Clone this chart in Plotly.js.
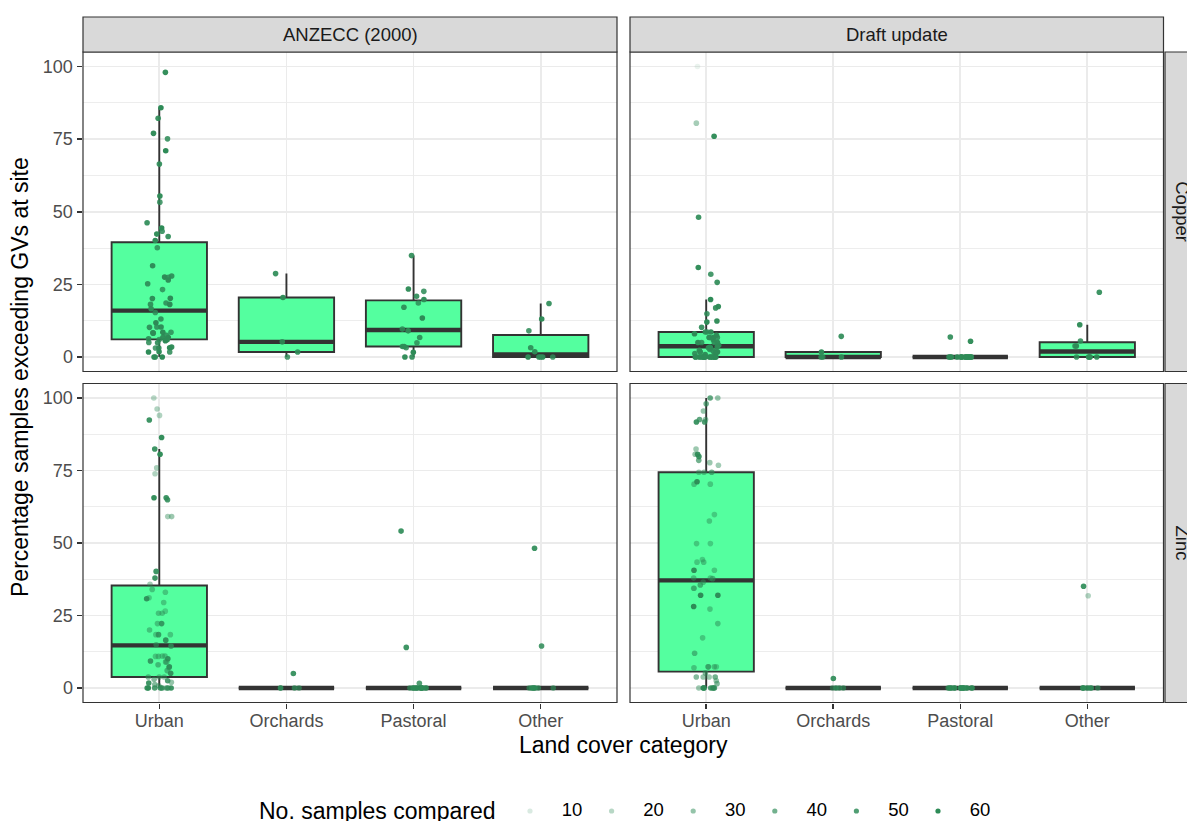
<!DOCTYPE html>
<html>
<head>
<meta charset="utf-8">
<script src="https://cdn.plot.ly/plotly-3.0.1.min.js"></script>
<style>
  html, body { margin: 0; padding: 0; background: #ffffff; }
  #chart { width: 1187px; height: 821px; }
</style>
</head>
<body>
<div id="chart"></div>
<script>
// ---- Facets, categories and legend levels ----
const categories = ['Urban', 'Orchards', 'Pastoral', 'Other'];
const standards = ['ANZECC (2000)', 'Draft update'];
const metals = ['Copper', 'Zinc'];
const legendLevels = [10, 20, 30, 40, 50, 60];

// ---- Copper, ANZECC (2000): % of samples exceeding GV per site, and samples compared ----
const anzCopperUrban = [
  98.0, 85.8, 82.2, 77.0, 75.1, 71.0, 66.4, 55.4, 53.3, 46.2,
  44.4, 43.3, 42.3, 41.5, 40.1, 37.6, 31.4, 27.9, 27.5, 27.4,
  26.5, 25.2, 23.2, 20.2, 20.1, 18.6, 18.1, 18.1, 16.6, 15.3,
  13.1, 11.8, 10.3, 10.3, 10.2, 8.5, 8.5, 8.3, 8.2, 7.5,
  6.7, 6.7, 6.3, 6.0, 5.9, 5.6, 5.0, 4.9, 3.4, 3.2,
  3.1, 3.1, 1.8, 1.7, 1.7, 0, 0, 0
];
const anzCopperUrbanN = [
  58, 60, 55, 58, 52, 60, 55, 58, 50, 55,
  60, 52, 58, 55, 60, 50, 58, 55, 60, 52,
  58, 55, 50, 60, 58, 52, 55, 60, 58, 50,
  55, 60, 52, 58, 55, 60, 50, 58, 55, 52,
  60, 58, 55, 50, 58, 60, 52, 55, 58, 60,
  55, 50, 58, 60, 52, 58, 55, 60
];
const anzCopperOrchards = [28.7, 20.5, 5.2, 1.7, 0];
const anzCopperOrchardsN = [55, 58, 52, 55, 50];
const anzCopperPastoral = [34.9, 23.4, 22.6, 20.9, 19.8, 18.6, 17.1, 13.4, 9.6, 9.0, 6.7, 4.9, 3.6, 3.6, 3.2, 1.6, 0, 0];
const anzCopperPastoralN = [55, 58, 52, 55, 58, 50, 55, 60, 52, 58, 55, 50, 58, 55, 52, 60, 55, 58];
const anzCopperOther = [18.4, 13.1, 9.0, 3.2, 1.8, 0, 0, 0, 0, 0];
const anzCopperOtherN = [55, 58, 52, 55, 58, 50, 55, 60, 52, 58];

// ---- Copper, draft update ----
const draftCopperUrban = [
  100, 80.5, 76.0, 48.1, 30.8, 28.5, 25.7, 19.8, 17.4, 16.9,
  14.9, 12.4, 12.0, 10.2, 8.6, 8.6, 8.6, 8.0, 7.5, 6.7,
  6.7, 6.7, 6.7, 6.0, 5.0, 5.0, 5.0, 5.0, 4.0, 3.4,
  3.4, 3.2, 3.0, 2.6, 2.3, 2.0, 1.7, 1.7, 1.7, 1.2,
  1.0, 0.8, 0, 0, 0, 0, 0, 0, 0, 0,
  0, 0, 0, 0, 0, 0, 0, 0
];
const draftCopperUrbanN = [
  5, 25, 58, 55, 58, 52, 55, 60, 58, 55,
  52, 58, 60, 55, 58, 50, 55, 60, 58, 52,
  55, 60, 50, 58, 55, 52, 60, 58, 55, 50,
  58, 55, 60, 52, 58, 55, 50, 60, 58, 55,
  52, 58, 55, 60, 50, 58, 55, 52, 60, 58,
  55, 50, 58, 60, 52, 55, 58, 60
];
const draftCopperOrchards = [7.1, 1.7, 0, 0, 0];
const draftCopperOrchardsN = [55, 58, 52, 55, 50];
const draftCopperPastoral = [6.9, 5.4, 0, 0, 0, 0, 0, 0, 0, 0, 0, 0, 0, 0, 0, 0, 0, 0];
const draftCopperPastoralN = [55, 58, 52, 55, 58, 50, 55, 60, 52, 58, 55, 50, 58, 55, 52, 60, 55, 58];
const draftCopperOther = [22.3, 11.1, 5.5, 3.8, 3.8, 0, 0, 0, 0, 0];
const draftCopperOtherN = [55, 58, 52, 55, 58, 50, 55, 60, 52, 58];

// ---- Zinc, ANZECC (2000) ----
const anzZincUrban = [
  100, 96.2, 94.0, 92.4, 86.4, 82.4, 80.6, 75.9, 73.9, 65.6,
  65.6, 64.9, 59.1, 59.1, 40.2, 37.9, 35.8, 34.0, 33.0, 31.1,
  30.8, 29.5, 26.5, 25.8, 25.8, 22.2, 22.2, 20.0, 18.4, 18.4,
  18.4, 16.5, 14.9, 14.5, 11.0, 11.0, 10.9, 10.9, 10.1, 9.3,
  9.0, 9.0, 8.0, 7.3, 7.0, 6.0, 5.1, 3.8, 3.8, 3.8,
  3.0, 2.5, 2.0, 1.7, 1.2, 0.8, 0, 0, 0, 0,
  0, 0, 0, 0, 0, 0
];
const anzZincUrbanN = [
  20, 22, 22, 55, 58, 55, 58, 24, 22, 55,
  58, 52, 25, 28, 55, 55, 25, 30, 28, 26,
  55, 28, 25, 30, 28, 30, 52, 30, 28, 50,
  28, 55, 35, 50, 28, 30, 28, 30, 55, 52,
  35, 30, 35, 55, 30, 35, 55, 30, 28, 35,
  35, 50, 30, 55, 35, 30, 55, 52, 58, 30,
  28, 50, 55, 35, 48, 40
];
const anzZincOrchards = [5.0, 0, 0, 0, 0];
const anzZincOrchardsN = [55, 40, 45, 50, 35];
const anzZincPastoral = [54.1, 14.0, 1.6, 0, 0, 0, 0, 0, 0, 0, 0, 0, 0, 0, 0, 0, 0, 0];
const anzZincPastoralN = [55, 55, 50, 40, 45, 35, 50, 40, 45, 38, 42, 50, 36, 44, 40, 48, 38, 42];
const anzZincOther = [48.2, 14.5, 0, 0, 0, 0, 0, 0, 0, 0];
const anzZincOtherN = [55, 52, 40, 45, 35, 50, 40, 45, 38, 42];

// ---- Zinc, draft update ----
const draftZincUrban = [
  100, 100, 98.0, 95.5, 92.6, 92.6, 91.7, 91.7, 82.4, 80.6,
  80.6, 79.8, 78.5, 77.7, 76.8, 74.4, 74.4, 74.4, 71.1, 70.3,
  70.3, 59.8, 57.6, 49.8, 49.8, 44.3, 43.4, 43.4, 40.6, 40.6,
  37.9, 37.9, 37.7, 36.5, 35.5, 34.4, 34.4, 32.0, 32.0, 28.1,
  27.2, 22.2, 17.3, 12.0, 7.3, 7.3, 7.3, 7.3, 7.0, 5.2,
  3.8, 3.8, 3.8, 3.8, 2.5, 1.5, 0, 0, 0, 0,
  0, 0, 0, 0, 0, 0
];
const draftZincUrbanN = [
  45, 30, 40, 30, 30, 45, 55, 50, 28, 55,
  30, 55, 40, 28, 26, 28, 30, 40, 58, 30,
  28, 26, 28, 26, 28, 26, 28, 30, 58, 28,
  28, 30, 35, 30, 40, 26, 28, 60, 58, 60,
  28, 30, 28, 35, 28, 30, 26, 35, 30, 35,
  30, 35, 28, 40, 30, 35, 50, 45, 30, 55,
  28, 40, 50, 30, 45, 35
];
const draftZincOrchards = [3.3, 0, 0, 0, 0];
const draftZincOrchardsN = [55, 40, 45, 50, 35];
const draftZincPastoral = [0, 0, 0, 0, 0, 0, 0, 0, 0, 0, 0, 0, 0, 0, 0, 0, 0, 0];
const draftZincPastoralN = [40, 45, 35, 50, 40, 45, 38, 42, 50, 36, 44, 40, 48, 38, 42, 45, 40, 50];
const draftZincOther = [35.1, 31.8, 0, 0, 0, 0, 0, 0, 0, 0];
const draftZincOtherN = [55, 22, 40, 45, 35, 50, 40, 45, 38, 42];

// ---- Panels of the facet grid (row = metal, column = standard) ----
const panels = [
  { metal: 0, std: 0, values: [anzCopperUrban, anzCopperOrchards, anzCopperPastoral, anzCopperOther],
    counts: [anzCopperUrbanN, anzCopperOrchardsN, anzCopperPastoralN, anzCopperOtherN] },
  { metal: 0, std: 1, values: [draftCopperUrban, draftCopperOrchards, draftCopperPastoral, draftCopperOther],
    counts: [draftCopperUrbanN, draftCopperOrchardsN, draftCopperPastoralN, draftCopperOtherN] },
  { metal: 1, std: 0, values: [anzZincUrban, anzZincOrchards, anzZincPastoral, anzZincOther],
    counts: [anzZincUrbanN, anzZincOrchardsN, anzZincPastoralN, anzZincOtherN] },
  { metal: 1, std: 1, values: [draftZincUrban, draftZincOrchards, draftZincPastoral, draftZincOther],
    counts: [draftZincUrbanN, draftZincOrchardsN, draftZincPastoralN, draftZincOtherN] }
];

// ---- Geometry (pixels of the 1187 x 821 figure) ----
const W = 1187, H = 821;
const px = v => v / W;
const py = v => 1 - v / H;
const colPx = [[83, 617], [630, 1163.5]];
const rowPx = [[52, 371.5], [383.5, 702.5]];
const FONT = 'Liberation Sans, Arial, Helvetica, sans-serif';
const BOX_FILL = '#54FF9F';
const INK = '#333333';
const GRID = '#EBEBEB';
const BOX_WIDTH = 0.75;
const JITTER = 0.1;

// Tukey box statistics with R's default (type 7) quantiles
function quantile(sorted, p) {
  const h = (sorted.length - 1) * p;
  const lo = Math.floor(h), hi = Math.ceil(h);
  return sorted[lo] + (h - lo) * (sorted[hi] - sorted[lo]);
}
function boxStats(vals) {
  const s = vals.slice().sort((a, b) => a - b);
  const q1 = quantile(s, 0.25), med = quantile(s, 0.5), q3 = quantile(s, 0.75);
  const iqr = q3 - q1;
  const lo = s.filter(v => v >= q1 - 1.5 * iqr);
  const hi = s.filter(v => v <= q3 + 1.5 * iqr);
  return { q1, med, q3, lower: lo[0], upper: hi[hi.length - 1] };
}

// Alpha scale mapped over the observed number of samples (0.1 .. 1)
const allCounts = panels.flatMap(p => p.counts.flat());
const nMin = Math.min(...allCounts), nMax = Math.max(...allCounts);
const alphaOf = n => 0.1 + 0.9 * (n - nMin) / (nMax - nMin);
const pointColor = n => 'rgba(46,139,87,' + alphaOf(n).toFixed(3) + ')';

// Deterministic horizontal jitter
function jitter(seed, i) {
  const s = Math.sin((i + 1) * 12.9898 + seed * 78.233) * 43758.5453;
  return (s - Math.floor(s) - 0.5) * 2 * JITTER;
}

const traces = [];
const boxTraces = [], medianTraces = [], pointTraces = [];
panels.forEach((p, k) => {
  const idx = k === 0 ? '' : String(k + 1);
  const xa = 'x' + idx, ya = 'y' + idx;
  const stats = p.values.map(boxStats);
  const pos = categories.map((c, i) => i + 1);
  boxTraces.push({
    type: 'box', xaxis: xa, yaxis: ya, x: pos,
    q1: stats.map(s => s.q1), median: stats.map(s => s.med), q3: stats.map(s => s.q3),
    lowerfence: stats.map(s => s.lower), upperfence: stats.map(s => s.upper),
    width: BOX_WIDTH, fillcolor: BOX_FILL, line: { color: INK, width: 1.9 },
    whiskerwidth: 0, boxpoints: false, hoverinfo: 'skip', showlegend: false
  });
  const mx = [], my = [];
  stats.forEach((s, i) => {
    mx.push(pos[i] - BOX_WIDTH / 2, pos[i] + BOX_WIDTH / 2, null);
    my.push(s.med, s.med, null);
  });
  medianTraces.push({
    type: 'scatter', mode: 'lines', xaxis: xa, yaxis: ya, x: mx, y: my,
    line: { color: INK, width: 4.4 }, hoverinfo: 'skip', showlegend: false
  });
  const xs = [], ys = [], cs = [];
  p.values.forEach((vals, c) => {
    vals.forEach((v, i) => {
      xs.push(pos[c] + jitter(k * 4 + c + 1, i));
      ys.push(v);
      cs.push(pointColor(p.counts[c][i]));
    });
  });
  pointTraces.push({
    type: 'scatter', mode: 'markers', xaxis: xa, yaxis: ya, x: xs, y: ys,
    marker: { color: cs, size: 5.6, line: { width: 0 } },
    hoverinfo: 'skip', showlegend: false
  });
});
traces.push(...boxTraces, ...medianTraces, ...pointTraces);

// Legend for the number of samples compared
const LEG_START = 530, LEG_STEP = 81.6, LEG_LEFT = 500, LEG_RIGHT = 1010;
const legIdx = legendLevels.map((l, i) => i);
traces.push({
  type: 'scatter', mode: 'markers', xaxis: 'x5', yaxis: 'y5',
  x: legIdx, y: legendLevels.map(() => 0),
  marker: { color: legendLevels.map(pointColor), size: 5.2 },
  cliponaxis: false, hoverinfo: 'skip', showlegend: false
});
traces.push({
  type: 'scatter', mode: 'text', xaxis: 'x5', yaxis: 'y5',
  x: legIdx.map(i => i + 0.515), y: legendLevels.map(() => 0),
  text: legendLevels.map(String), textposition: 'middle center',
  textfont: { family: FONT, size: 18.5, color: '#000000' },
  cliponaxis: false, hoverinfo: 'skip', showlegend: false
});

// ---- Axes ----
const layout = {
  width: W, height: H,
  margin: { l: 0, r: 0, t: 0, b: 0, pad: 0 },
  paper_bgcolor: '#ffffff', plot_bgcolor: '#ffffff',
  showlegend: false,
  font: { family: FONT, color: '#4D4D4D' },
  shapes: [], annotations: []
};
panels.forEach((p, k) => {
  const idx = k === 0 ? '' : String(k + 1);
  const bottom = p.metal === 1, left = p.std === 0;
  layout['xaxis' + idx] = {
    domain: [px(colPx[p.std][0]), px(colPx[p.std][1])],
    anchor: 'y' + idx, range: [0.4, 4.6],
    tickmode: 'array', tickvals: [1, 2, 3, 4], ticktext: categories,
    showticklabels: bottom, ticks: bottom ? 'outside' : '',
    ticklen: 5.5, tickwidth: 1.5, tickcolor: INK, ticklabelstandoff: -4,
    tickfont: { family: FONT, size: 18, color: '#4D4D4D' },
    showgrid: true, gridcolor: GRID, gridwidth: 1.6,
    zeroline: false, showline: false, fixedrange: true
  };
  layout['yaxis' + idx] = {
    domain: [py(rowPx[p.metal][1]), py(rowPx[p.metal][0])],
    anchor: 'x' + idx, range: [-5, 105],
    tickmode: 'array', tickvals: [0, 25, 50, 75, 100],
    showticklabels: left, ticks: left ? 'outside' : '',
    ticklen: 5.5, tickwidth: 1.5, tickcolor: INK,
    tickfont: { family: FONT, size: 18, color: '#4D4D4D' },
    showgrid: true, gridcolor: GRID, gridwidth: 1.6,
    minor: { tickmode: 'array', tickvals: [12.5, 37.5, 62.5, 87.5], showgrid: true, gridcolor: GRID, gridwidth: 0.9 },
    zeroline: false, showline: false, fixedrange: true
  };
  // panel border
  layout.shapes.push({
    type: 'rect', xref: 'paper', yref: 'paper', layer: 'above',
    x0: px(colPx[p.std][0]), x1: px(colPx[p.std][1]),
    y0: py(rowPx[p.metal][1]), y1: py(rowPx[p.metal][0]),
    line: { color: INK, width: 1.2 }, fillcolor: 'rgba(0,0,0,0)'
  });
});
layout.xaxis5 = {
  domain: [px(LEG_LEFT), px(LEG_RIGHT)], anchor: 'y5',
  range: [-(LEG_START - LEG_LEFT) / LEG_STEP, (LEG_RIGHT - LEG_START) / LEG_STEP],
  visible: false, fixedrange: true
};
layout.yaxis5 = { domain: [0, py(811) * 2], anchor: 'x5', range: [-1, 1], visible: false, fixedrange: true };

// ---- Strips ----
standards.forEach((s, j) => {
  layout.shapes.push({
    type: 'rect', xref: 'paper', yref: 'paper', layer: 'above',
    x0: px(colPx[j][0]), x1: px(colPx[j][1]), y0: py(52), y1: py(17),
    line: { color: INK, width: 1.2 }, fillcolor: '#D9D9D9'
  });
  layout.annotations.push({
    xref: 'paper', yref: 'paper', x: px((colPx[j][0] + colPx[j][1]) / 2), y: py(34.5),
    text: s, showarrow: false, xanchor: 'center', yanchor: 'middle',
    font: { family: FONT, size: 18.5, color: '#1A1A1A' }
  });
});
metals.forEach((m, i) => {
  layout.shapes.push({
    type: 'rect', xref: 'paper', yref: 'paper', layer: 'above',
    x0: px(1165), x1: px(1205), y0: py(rowPx[i][1]), y1: py(rowPx[i][0]),
    line: { color: INK, width: 1.2 }, fillcolor: '#D9D9D9'
  });
  layout.annotations.push({
    xref: 'paper', yref: 'paper', x: px(1182.5), y: py((rowPx[i][0] + rowPx[i][1]) / 2),
    text: m, showarrow: false, textangle: 90, xanchor: 'center', yanchor: 'middle',
    font: { family: FONT, size: 18.5, color: '#1A1A1A' }
  });
});

// ---- Axis titles and legend title ----
layout.annotations.push({
  xref: 'paper', yref: 'paper', x: px(623), y: py(745),
  text: 'Land cover category', showarrow: false, xanchor: 'center', yanchor: 'middle',
  font: { family: FONT, size: 23, color: '#000000' }
});
layout.annotations.push({
  xref: 'paper', yref: 'paper', x: px(20), y: py(377),
  text: 'Percentage samples exceeding GVs at site', showarrow: false, textangle: -90,
  xanchor: 'center', yanchor: 'middle',
  font: { family: FONT, size: 23, color: '#000000' }
});
layout.annotations.push({
  xref: 'paper', yref: 'paper', x: px(257), y: py(811),
  text: 'No. samples compared', showarrow: false, xanchor: 'left', yanchor: 'middle',
  font: { family: FONT, size: 23, color: '#000000' }
});

Plotly.newPlot('chart', traces, layout, { displayModeBar: false, staticPlot: true });
</script>
</body>
</html>
